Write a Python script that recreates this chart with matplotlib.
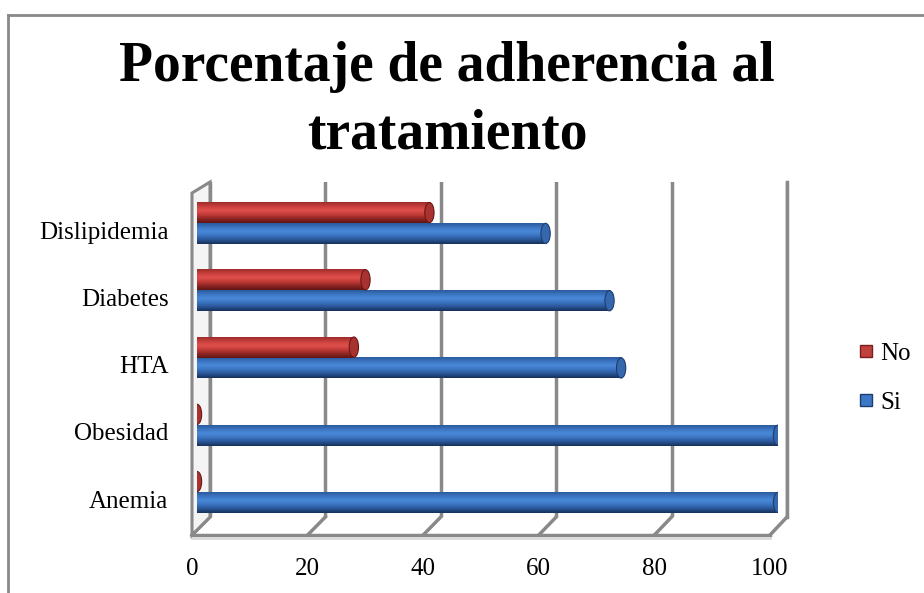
import matplotlib
matplotlib.use('Agg')
import matplotlib.pyplot as plt
from matplotlib.colors import LinearSegmentedColormap
from matplotlib.patches import Ellipse, Polygon
from matplotlib.lines import Line2D
import numpy as np

# data
categorias = ['Anemia', 'Obesidad', 'HTA', 'Diabetes', 'Dislipidemia']
si = [100, 100, 73, 71, 60]
no = [0, 0, 27, 29, 40]
xticks = [0, 20, 40, 60, 80, 100]

plt.rcParams['font.family'] = ['Liberation Serif', 'DejaVu Serif']

W, H = 924, 593
fig = plt.figure(figsize=(W / 100, H / 100), dpi=100)


def box(x0, x1, y0, y1):
    # pixel box (top-left origin) -> figure fraction rect
    return [x0 / W, 1 - y1 / H, (x1 - x0) / W, (y1 - y0) / H]


def fig_xy(x, y):
    return (x / W, 1 - y / H)


grid_c = '#898989'

# outer border (only top and left visible)
fig.add_artist(Line2D([8 / W, 8 / W], [0, 1 - 15 / H], color=grid_c, lw=2,
                      transform=fig.transFigure))
fig.add_artist(Line2D([8 / W, 1], [1 - 15 / H, 1 - 15 / H], color=grid_c, lw=2,
                      transform=fig.transFigure))

fig.text(447 / W, 1 - 101 / H, 'Porcentaje de adherencia al\ntratamiento',
         ha='center', va='center', fontsize=40, fontweight='bold',
         linespacing=1.38)

# back wall with gridlines
ax_back = fig.add_axes(box(210, 787, 182, 517))
ax_back.set_xlim(0, 100)
ax_back.set_ylim(0, 1)
ax_back.set_xticks(xticks)
ax_back.set_yticks([])
ax_back.tick_params(length=0, labelbottom=False)
ax_back.grid(axis='x', color=grid_c, lw=2.5)
for s in ax_back.spines.values():
    s.set_visible(False)
ax_back.spines['right'].set_visible(True)
ax_back.spines['right'].set_color(grid_c)
ax_back.spines['right'].set_linewidth(2.5)
ax_back.patch.set_alpha(0)

# floor and left wall (perspective frame), kept under the bars
front0, front100, fy = 192, 770, 535
back0, back100, by = 210, 787, 517
for v in xticks:
    xf = front0 + (front100 - front0) * v / 100
    xb = back0 + (back100 - back0) * v / 100
    fig.add_artist(Line2D([xf / W, xb / W], [1 - fy / H, 1 - by / H],
                          color=grid_c, lw=2.5, transform=fig.transFigure, zorder=0.5))
fig.add_artist(Line2D([front0 / W, front100 / W], [1 - fy / H, 1 - fy / H],
                      color=grid_c, lw=2.5, transform=fig.transFigure, zorder=0.5))
fig.add_artist(Line2D([front0 / W, front100 / W], [1 - (fy + 3) / H, 1 - (fy + 3) / H],
                      color='#d9d9d9', lw=2, transform=fig.transFigure, zorder=0.5))
wall = Polygon([fig_xy(192, 535), fig_xy(192, 193), fig_xy(210, 182), fig_xy(210, 517)],
               closed=True, facecolor='#f4f4f4', edgecolor=grid_c, lw=2.2,
               transform=fig.transFigure, zorder=0.5)
fig.add_artist(wall)

# bars
ax = fig.add_axes(box(197, 778, 182, 520))
ax.set_zorder(3)
ax.patch.set_alpha(0)
y_lo = -0.416
ylim = (y_lo, y_lo + 338 / 67.25)
pos = np.arange(len(categorias))
bh = 0.31

blue_cm = LinearSegmentedColormap.from_list(
    'b', ['#16305a', '#2a5595', '#3a72c0', '#4a8ad8', '#3c76c4', '#2b5a9c'])
red_cm = LinearSegmentedColormap.from_list(
    'r', ['#5e1514', '#8e2624', '#c13a37', '#e0504c', '#c9403d', '#9c2c2a'])
grad = np.linspace(0, 1, 64).reshape(-1, 1)


def draw_series(vals, offset, cmap, cap_face, cap_edge, label):
    bars = ax.barh(pos + offset, vals, height=bh, color=cap_face, label=label, zorder=3)
    for rect, v in zip(bars, vals):
        x0, y0 = rect.get_x(), rect.get_y()
        w, h = rect.get_width(), rect.get_height()
        if w > 0:
            ax.imshow(grad, extent=[x0, x0 + w, y0, y0 + h], aspect='auto',
                      origin='lower', cmap=cmap, zorder=4, interpolation='bicubic')
        ax.add_patch(Ellipse((x0 + w, y0 + h / 2), width=1.6, height=h * 0.97,
                             facecolor=cap_face, edgecolor=cap_edge, lw=0.8, zorder=5))
    return bars


draw_series(si, -bh / 2, blue_cm, '#3567ad', '#1e3d6e', 'Si')
draw_series(no, bh / 2, red_cm, '#a83230', '#6a1716', 'No')
ax.set_xlim(0, 100)
ax.set_ylim(*ylim)
ax.axis('off')

# front labels
ax_f = fig.add_axes(box(192, 770, 189, 527))
ax_f.set_zorder(3)
ax_f.patch.set_alpha(0)
ax_f.set_xlim(0, 100)
ax_f.set_ylim(*ylim)
ax_f.set_xticks(xticks)
ax_f.set_yticks(pos)
ax_f.set_yticklabels(categorias)
ax_f.tick_params(length=0, labelsize=18)
ax_f.tick_params(axis='y', pad=17)
ax_f.tick_params(axis='x', pad=22)
for s in ax_f.spines.values():
    s.set_visible(False)

# legend
handles = [Line2D([], [], ls='none', marker='s', markersize=9,
                  markerfacecolor='#c0403d', markeredgecolor='#7a1e1c', label='No'),
           Line2D([], [], ls='none', marker='s', markersize=9,
                  markerfacecolor='#3d78c6', markeredgecolor='#1e3d6e', label='Si')]
fig.legend(handles=handles, loc='center left', bbox_to_anchor=(843 / W, 1 - 378 / H),
           frameon=False, fontsize=18, handlelength=0.8, handletextpad=0.2,
           labelspacing=1.05, borderpad=0)

fig.savefig('out.png', dpi=100)
